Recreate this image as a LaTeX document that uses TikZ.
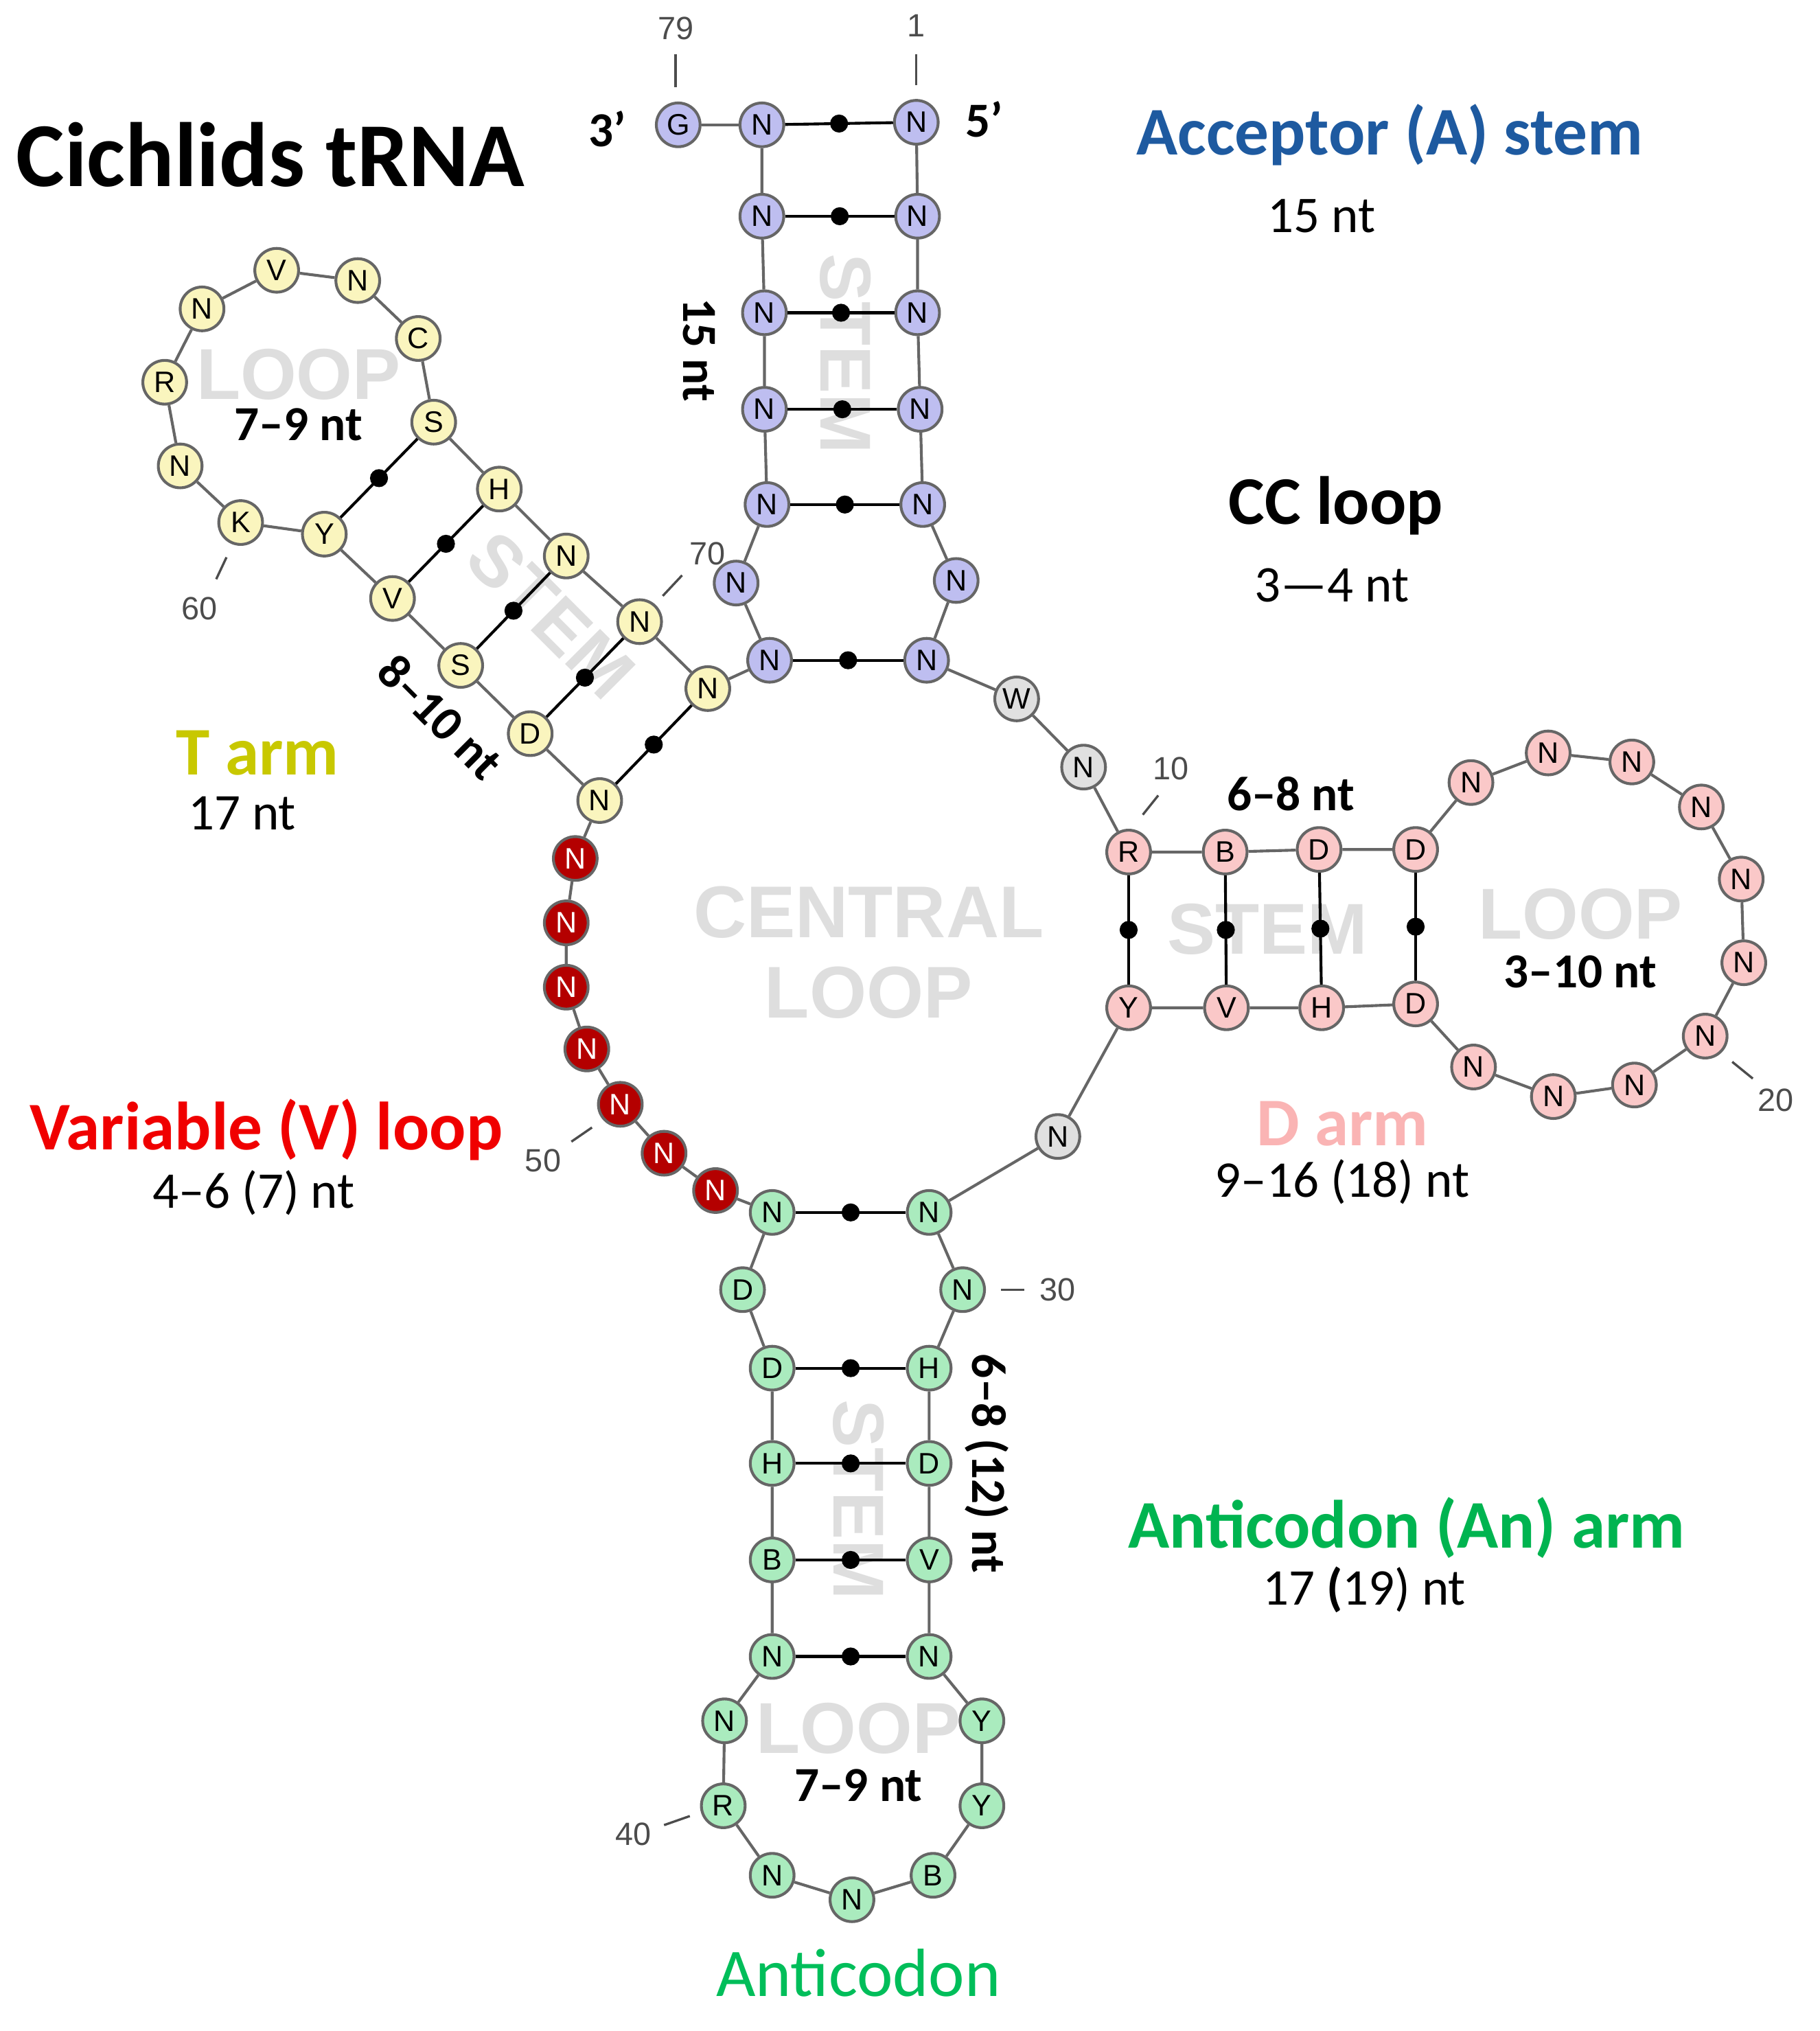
\documentclass[tikz,border=0pt]{standalone}
\usepackage{fontspec}
\setmainfont{Carlito}
\newfontfamily\arialf{Liberation Sans}
\begin{document}
\begin{tikzpicture}[x=1pt,y=-1pt,
 nt/.style={circle,draw=black!60,line width=2.2pt,minimum size=34pt,inner sep=0pt,font=\arialf\fontsize{23}{23}\selectfont},
 bl/.style={nt,fill={rgb,255:red,190;green,190;blue,240}},
 ye/.style={nt,fill={rgb,255:red,250;green,245;blue,190}},
 pk/.style={nt,fill={rgb,255:red,250;green,200;blue,200}},
 gr/.style={nt,fill={rgb,255:red,170;green,235;blue,190}},
 rd/.style={nt,fill={rgb,255:red,180;green,0;blue,0},text=white},
 gy/.style={nt,fill=black!12},
 bb/.style={draw=black!60,line width=2.2pt},
 bp/.style={draw=black,line width=2.2pt},
 dot/.style={circle,fill=black,minimum size=14pt,inner sep=0pt},
 bg/.style={text=black!13,font=\arialf\bfseries\fontsize{56}{56}\selectfont},
 num/.style={text=black!70,font=\arialf\fontsize{25}{25}\selectfont},
 tk/.style={draw=black!70,line width=1.8pt},
 lab/.style={font=\bfseries\fontsize{53}{53}\selectfont},
 sub/.style={font=\fontsize{40}{40}\selectfont},
 inb/.style={font=\bfseries\fontsize{38}{38}\selectfont}]
\useasboundingbox (0,0) rectangle (1414,1578);
% background texts
\node[bg,rotate=-90] at (657,275) {STEM};
\node[bg,rotate=-45] at (428,478) {STEM};
\node[bg] at (985,722) {STEM};
\node[bg,rotate=-90] at (667,1165) {STEM};
\node[bg] at (232,291) {LOOP};
\node[bg] at (1228,710) {LOOP};
\node[bg] at (667,1343) {LOOP};
\node[bg,align=center,font=\arialf\bfseries\fontsize{57}{62}\selectfont] at (675,740) {CENTRAL\\LOOP};
% acceptor
\node[bl] (G) at (527,97) {G};
\node[bl] (a1) at (592,97) {N};
\node[bl] (b1) at (712,95) {N};
\node[bl] (a2) at (592,168) {N}; \node[bl] (b2) at (713,168) {N};
\node[bl] (a3) at (594,243) {N}; \node[bl] (b3) at (713,243) {N};
\node[bl] (a4) at (594,318) {N}; \node[bl] (b4) at (715,318) {N};
\node[bl] (a5) at (596,392) {N}; \node[bl] (b5) at (717,392) {N};
\node[bl] (a6) at (572,453) {N}; \node[bl] (b6) at (743,451) {N};
\node[bl] (a7) at (598,513) {N}; \node[bl] (b7) at (720,513) {N};
% D arm
\node[gy] (W) at (790,543) {W};
\node[gy] (n8) at (842,596) {N};
\node[pk] (R) at (877,662) {R}; \node[pk] (B) at (952,662) {B};
\node[pk] (D1) at (1025,660) {D}; \node[pk] (D2) at (1100,660) {D};
\node[pk] (Y) at (877,783) {Y}; \node[pk] (V) at (953,783) {V};
\node[pk] (H) at (1027,783) {H}; \node[pk] (D3) at (1100,780) {D};
\node[pk] (l1) at (1143,608) {N}; \node[pk] (l2) at (1203,585) {N};
\node[pk] (l3) at (1268,592) {N}; \node[pk] (l4) at (1322,627) {N};
\node[pk] (l5) at (1353,683) {N}; \node[pk] (l6) at (1355,748) {N};
\node[pk] (l7) at (1325,805) {N}; \node[pk] (l8) at (1270,843) {N};
\node[pk] (l9) at (1207,852) {N}; \node[pk] (l10) at (1145,829) {N};
\node[gy] (n26) at (822,883) {N};
% anticodon
\node[gr] (c1) at (600,942) {N}; \node[gr] (d1) at (722,942) {N};
\node[gr] (c2) at (577,1002) {D}; \node[gr] (d2) at (748,1002) {N};
\node[gr] (c3) at (600,1063) {D}; \node[gr] (d3) at (722,1063) {H};
\node[gr] (c4) at (600,1137) {H}; \node[gr] (d4) at (722,1137) {D};
\node[gr] (c5) at (600,1212) {B}; \node[gr] (d5) at (722,1212) {V};
\node[gr] (c6) at (600,1287) {N}; \node[gr] (d6) at (722,1287) {N};
\node[gr] (e1) at (563,1337) {N}; \node[gr] (e2) at (562,1403) {R};
\node[gr] (e3) at (600,1457) {N}; \node[gr] (e4) at (662,1476) {N};
\node[gr] (e5) at (725,1457) {B}; \node[gr] (e6) at (763,1403) {Y};
\node[gr] (e7) at (763,1337) {Y};
% variable
\node[rd] (v1) at (447,667) {N}; \node[rd] (v2) at (440,717) {N};
\node[rd] (v3) at (440,767) {N}; \node[rd] (v4) at (456,815) {N};
\node[rd] (v5) at (482,858) {N}; \node[rd] (v6) at (516,896) {N};
\node[rd] (v7) at (556,925) {N};
% T arm
\node[ye] (t1) at (466,622) {N}; \node[ye] (t2) at (412,570) {D};
\node[ye] (t3) at (358,517) {S}; \node[ye] (t4) at (305,465) {V};
\node[ye] (t5) at (252,415) {Y};
\node[ye] (u1) at (550,535) {N}; \node[ye] (u2) at (497,483) {N};
\node[ye] (u3) at (440,432) {N}; \node[ye] (u4) at (388,380) {H};
\node[ye] (u5) at (337,328) {S};
\node[ye] (k1) at (187,406) {K}; \node[ye] (k2) at (140,362) {N};
\node[ye] (k3) at (128,297) {R}; \node[ye] (k4) at (157,240) {N};
\node[ye] (k5) at (215,210) {V}; \node[ye] (k6) at (278,218) {N};
\node[ye] (k7) at (325,263) {C};
% backbone
\draw[bb] (G)--(a1);
\draw[bb] (a1)--(a2)--(a3)--(a4)--(a5)--(a6)--(a7)--(u1);
\draw[bb] (b1)--(b2)--(b3)--(b4)--(b5)--(b6)--(b7)--(W)--(n8)--(R);
\draw[bb] (R)--(B)--(D1)--(D2)--(l1)--(l2)--(l3)--(l4)--(l5)--(l6)--(l7)--(l8)--(l9)--(l10)--(D3)--(H)--(V)--(Y)--(n26)--(d1);
\draw[bb] (d1)--(d2)--(d3)--(d4)--(d5)--(d6)--(e7)--(e6)--(e5)--(e4)--(e3)--(e2)--(e1)--(c6)--(c5)--(c4)--(c3)--(c2)--(c1)--(v7)--(v6)--(v5)--(v4)--(v3)--(v2)--(v1)--(t1);
\draw[bb] (t1)--(t2)--(t3)--(t4)--(t5)--(k1)--(k2)--(k3)--(k4)--(k5)--(k6)--(k7)--(u5)--(u4)--(u3)--(u2)--(u1);
% base pairs
\foreach \p/\q in {a1/b1,a2/b2,a3/b3,a4/b4,a5/b5,a7/b7,R/Y,B/V,D1/H,D2/D3,c1/d1,c3/d3,c4/d4,c5/d5,c6/d6,t1/u1,t2/u2,t3/u3,t4/u4,t5/u5}
  \draw[bp] (\p)--(\q) node[midway,dot]{};
% numbers
\node[num] (n79) at (525,22) {79}; \draw[tk] (525,42)--(525,68);
\node[num] (n1) at (712,20) {1}; \draw[tk] (712,42)--(712,66);
\node[num] (n70) at (550,430) {70}; \draw[tk] (530,447)--(515,463);
\node[num] (n60) at (155,473) {60}; \draw[tk] (168,450)--(176,433);
\node[num] (n10) at (910,597) {10}; \draw[tk] (900,618)--(888,633);
\node[num] (n20) at (1380,855) {20}; \draw[tk] (1362,838)--(1346,825);
\node[num] (n50) at (422,902) {50}; \draw[tk] (444,887)--(460,876);
\node[num] (n30) at (822,1002) {30}; \draw[tk] (778,1002)--(796,1002);
\node[num] (n40) at (492,1425) {40}; \draw[tk] (516,1418)--(536,1411);
% ends
\node[font=\bfseries\fontsize{38}{38}\selectfont] at (472,100) {3’};
\node[font=\bfseries\fontsize{38}{38}\selectfont] at (765,93) {5’};
% labels
\node[font=\bfseries\fontsize{71}{71}\selectfont] at (210,120) {Cichlids tRNA};
\node[lab,text={rgb,255:red,30;green,90;blue,160}] at (1080,105) {Acceptor (A) stem};
\node[sub] at (1027,168) {15 nt};
\node[lab] at (1038,393) {CC loop};
\node[sub] at (1035,455) {3—4 nt};
\node[lab,text={rgb,255:red,200;green,200;blue,0}] at (200,585) {T arm};
\node[sub] at (188,632) {17 nt};
\node[lab,text={rgb,255:red,240;green,0;blue,0}] at (207,878) {Variable (V) loop};
\node[sub] at (197,927) {4–6 (7) nt};
\node[lab,text={rgb,255:red,250;green,180;blue,180}] at (1043,873) {D arm};
\node[sub] at (1043,918) {9–16 (18) nt};
\node[lab,text={rgb,255:red,0;green,180;blue,80}] at (1093,1187) {Anticodon (An) arm};
\node[sub] at (1060,1235) {17 \textbf{(}19) nt};
\node[font=\fontsize{53}{53}\selectfont,text={rgb,255:red,0;green,190;blue,90}] at (667,1533) {Anticodon};
\node[inb] at (232,330) {7–9 nt};
\node[inb,rotate=-90] at (543,272) {15 nt};
\node[inb,rotate=-45] at (342,557) {8–10 nt};
\node[inb] at (1003,617) {6–8 nt};
\node[inb] at (1228,755) {3–10 nt};
\node[inb,rotate=-90] at (767,1137) {6–8 (12) nt};
\node[inb] at (667,1387) {7–9 nt};
\end{tikzpicture}
\end{document}
